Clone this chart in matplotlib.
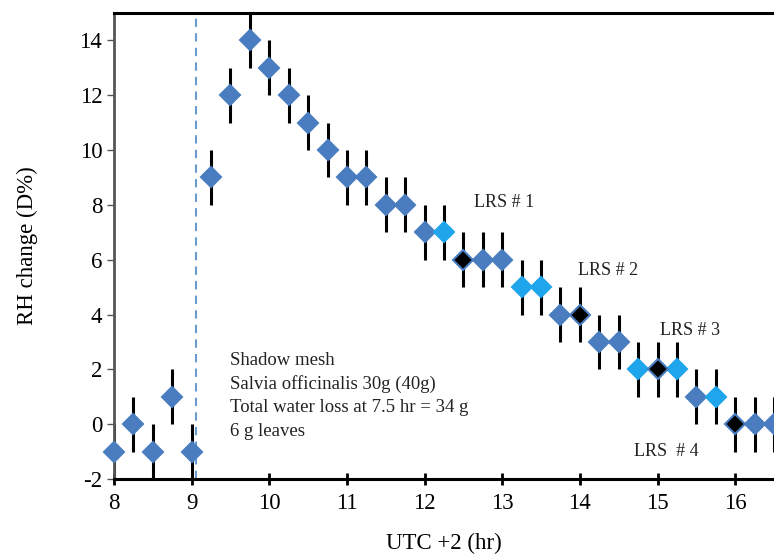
import numpy as np
import matplotlib
matplotlib.use("Agg")
from matplotlib import pyplot as plt

plt.rcParams["font.family"] = ["Liberation Serif", "DejaVu Serif"]
plt.rcParams["axes.unicode_minus"] = False

# time of day (UTC +2, hr) and RH change (D%)
hours = [8.0, 8.25, 8.5, 8.75, 9.0, 9.25, 9.5, 9.75, 10.0, 10.25, 10.5, 10.75,
	11.0, 11.25, 11.5, 11.75, 12.0, 12.25, 12.5, 12.75, 13.0, 13.25, 13.5,
	13.75, 14.0, 14.25, 14.5, 14.75, 15.0, 15.25, 15.5, 15.75, 16.0, 16.25, 16.5]
rh_change = [-1, 0, -1, 1, -1, 9, 12, 14, 13, 12, 11, 10,
	9, 9, 8, 8, 7, 7, 6, 6, 6, 5, 5,
	4, 4, 3, 3, 2, 2, 2, 1, 1, 0, 0, 0]
rh_err = [1] * len(hours)
# marker kind: "m" mid blue, "l" light blue, "k" black (LRS)
kind = list("mmmmmmmmmmmmmmmmmlkmmllmkmmlklmlkmm")

x_ticks = [8, 9, 10, 11, 12, 13, 14, 15, 16]
y_ticks = [-2, 0, 2, 4, 6, 8, 10, 12, 14]

lrs_labels = ["LRS # 1", "LRS # 2", "LRS # 3", "LRS  # 4"]
lrs_pos = [(12.63, 8.1), (13.97, 5.6), (15.03, 3.4), (14.7, -1.0)]

info_lines = ["Shadow mesh", "Salvia officinalis 30g (40g)",
	"Total water loss at 7.5 hr = 34 g", "6 g leaves"]

MID = "#4a7dbf"
LIGHT = "#1ea5eb"

fig = plt.figure(figsize=(7.74, 5.58), dpi=100)
ax = fig.add_axes([0.1473, 0.1416, 0.8527, 0.8351])

x = np.array(hours)
y = np.array(rh_change)
ax.errorbar(x, y, yerr=rh_err, fmt="none", ecolor="black", elinewidth=2.2,
	capsize=0, zorder=2)

styles = {
	"m": dict(markerfacecolor=MID, markeredgecolor=MID),
	"l": dict(markerfacecolor=LIGHT, markeredgecolor=LIGHT),
	"k": dict(markerfacecolor="black", markeredgecolor=MID),
}
for k, st in styles.items():
	sel = np.array([c == k for c in kind])
	ax.plot(x[sel], y[sel], "D", markersize=10, markeredgewidth=1.5,
		linestyle="none", zorder=3, clip_on=False, **st)

ax.axvline(9.06, color="#6a9bd0", linestyle=(0, (4, 3)), linewidth=1.5, zorder=1)

for lab, (lx, ly) in zip(lrs_labels, lrs_pos):
	ax.text(lx, ly, lab, fontsize=13, va="center", ha="left", color="#222222")

ax.text(9.5, 2.65, "\n".join(info_lines), fontsize=13.5, va="top", ha="left",
	linespacing=1.48, color="#222222")

ax.set_xlim(8, 16.5)
ax.set_ylim(-2, 15)
ax.set_xticks(x_ticks)
ax.set_xticklabels([str(t) for t in x_ticks])
ax.set_yticks(y_ticks)
ax.set_yticklabels([str(t) for t in y_ticks])
ax.spines["right"].set_visible(False)
ax.spines["top"].set_linewidth(2.2)
ax.spines["bottom"].set_linewidth(2.2)
ax.spines["left"].set_linewidth(2)
ax.spines["left"].set_color("#555555")
ax.tick_params(axis="x", direction="inout", length=8, width=2, labelsize=16.5, pad=6)
ax.tick_params(axis="y", direction="out", length=5, width=1, color="#555555",
	labelsize=16.5)

ax.set_xlabel("UTC +2 (hr)", fontsize=16.5, labelpad=14)
ax.set_ylabel("RH change (D%)", fontsize=16.5, labelpad=30)

fig.savefig("out.png", dpi=100)
